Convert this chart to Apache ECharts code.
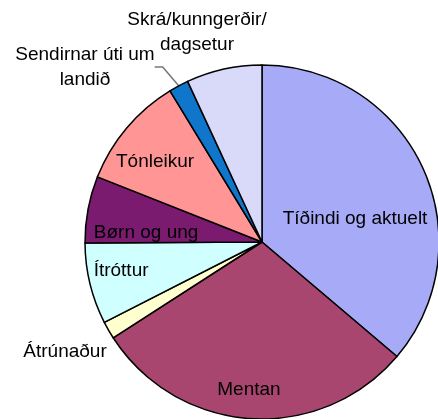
<!DOCTYPE html>
<html>
<head>
<meta charset="utf-8">
<script src="https://cdn.jsdelivr.net/npm/echarts@6/dist/echarts.min.js"></script>
<style>
  html, body { margin: 0; padding: 0; background: #fff; }
  #chart { width: 438px; height: 419px; }
</style>
</head>
<body>
<div id="chart"></div>
<script>
// share of programme hours (percent), clockwise from 12 o'clock
const categories = ['Tíðindi og aktuelt', 'Mentan', 'Átrúnaður', 'Ítróttur', 'Børn og ung', 'Tónleikur', 'Sendirnar úti um landið', 'Skrá/kunngerðir/dagsetur']
const shares = [36.2, 29.7, 1.6, 7.4, 6.1, 10.3, 1.8, 6.9]
const labelText = ['Tíðindi og aktuelt', 'Mentan', 'Átrúnaður', 'Ítróttur', 'Børn og ung', 'Tónleikur', 'Sendirnar úti um\nlandið', 'Skrá/kunngerðir/\ndagsetur']

const colors = ['#a7aaf7', '#a9466f', '#ffffd0', '#d0ffff', '#7a1b6f', '#ff9695', '#0f76cc', '#d9d9f9']
const outside = [false, false, true, false, false, false, true, true]
// inside labels: small nudges; outside labels: where the original puts them
const nudge = [[10, 15], [-7, 56], null, [-52, 7], [-26, 8], [-37, -21], null, null]
const outerSpot = [null, null, [65, 352], null, null, null, [85, 67], [197, 32]]

const chart = echarts.init(document.getElementById('chart'))

const data = categories.map((name, i) => ({
  name: name,
  value: shares[i],
  itemStyle: { color: colors[i] },
  label: { position: outside[i] ? 'outside' : 'inside' },
  labelLine: { show: i === 6 }
}))

chart.setOption({
  animation: false,
  series: [{
    type: 'pie',
    center: [262, 242],
    radius: 177,
    startAngle: 90,
    clockwise: true,
    avoidLabelOverlap: false,
    itemStyle: {
      borderColor: '#000',
      borderWidth: 1.5
    },
    label: {
      color: '#000',
      fontFamily: 'Liberation Sans, Arial, sans-serif',
      fontSize: 19,
      lineHeight: 25,
      formatter: p => labelText[p.dataIndex]
    },
    labelLine: {
      length: 15,
      length2: 8,
      lineStyle: { color: '#777', width: 1.5 }
    },
    labelLayout: p => {
      const i = p.dataIndex
      if (outerSpot[i]) {
        return { x: outerSpot[i][0], y: outerSpot[i][1], align: 'center', verticalAlign: 'middle' }
      }
      return { dx: nudge[i][0], dy: nudge[i][1] }
    },
    emphasis: { disabled: true },
    data: data
  }]
})
</script>
</body>
</html>
